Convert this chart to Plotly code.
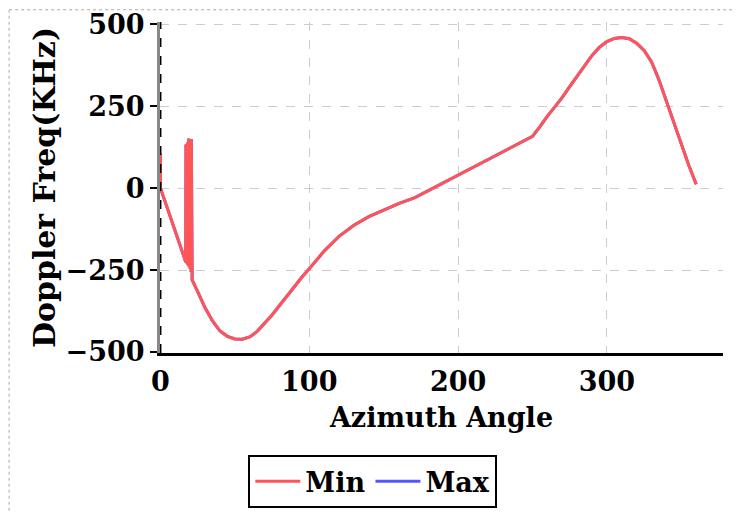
import plotly.graph_objects as go

# azimuth angle (deg) and doppler frequency (KHz)
azimuth = [0, 0, 5, 10, 15, 17,
           17.15, 17.3, 17.45, 17.6, 17.75, 17.9, 18.05, 18.2, 18.35, 18.5,
           18.65, 18.8, 18.95, 19.1, 19.25, 19.4, 19.55, 19.7, 19.85, 20.0,
           20.15, 20.3, 20.45, 20.6, 20.75, 20.9, 21.05, 21.3,
           25, 30, 35, 40, 45, 50, 55, 60, 65, 70, 75, 80, 85, 90, 95, 100,
           110, 120, 130, 140, 150, 160, 171, 200, 230, 250, 255, 260, 265, 270, 275,
           280, 285, 290, 295, 300, 305, 310, 315, 320, 325, 330, 335, 340, 345, 350, 355, 360]
doppler_min = [105, 0, -66, -133, -199, -225,
               130, -227, 131, -229, 132, -231, 133, -233, 134, -235,
               140, -237, 148, -239, 150, -241, 150, -244, 150, -247,
               150, -251, 150, -256, 150, -262, 148, -280,
               -316, -365, -405, -436, -452, -460, -461, -454, -437, -413, -387, -358, -329, -300, -272, -246,
               -192, -147, -113, -87, -66, -47, -29, 40, 110, 158, 188, 220, 248, 277, 310,
               342, 375, 405, 430, 447, 457, 460, 456, 442, 420, 385, 330, 265, 198, 132, 70, 12]
doppler_max = [105, 0, -66, -133, -199, -225,
               130, -227, 131, -229, 132, -231, 133, -233, 134, -235,
               140, -237, 148, -239, 150, -241, 150, -244, 150, -247,
               150, -251, 150, -256, 150, -262, 148, -280,
               -316, -365, -405, -436, -452, -460, -461, -454, -437, -413, -387, -358, -329, -300, -272, -246,
               -192, -147, -113, -87, -66, -47, -29, 40, 110, 158, 188, 220, 248, 277, 310,
               342, 375, 405, 430, 447, 457, 460, 456, 442, 420, 385, 330, 265, 198, 132, 70, 12]

x_ticks = [0, 100, 200, 300]
y_ticks = [-500, -250, 0, 250, 500]

font = dict(family='DejaVu Serif', size=27, color='black', weight='bold')

fig = go.Figure()
# Max drawn first so Min sits on top, but Min listed first in the legend
fig.add_trace(go.Scatter(x=azimuth, y=doppler_max, mode='lines', name='Max',
                         line=dict(color='#5555ff', width=3), legendrank=2))
fig.add_trace(go.Scatter(x=azimuth, y=doppler_min, mode='lines', name='Min',
                         line=dict(color='#ff5555', width=3), legendrank=1))

# dashed black line over the left axis
fig.add_shape(type='line', xref='x', yref='paper', x0=0, x1=0, y0=0, y1=1,
              line=dict(color='black', width=2, dash='dash'))
# dotted page border on top and left
fig.add_shape(type='line', xref='paper', yref='paper', x0=-0.268, x1=1.05, y0=1.037, y1=1.037,
              line=dict(color='#aaaaaa', width=1, dash='dot'))
fig.add_shape(type='line', xref='paper', yref='paper', x0=-0.268, x1=-0.268, y0=1.037, y1=-0.5,
              line=dict(color='#aaaaaa', width=1, dash='dot'))

fig.update_layout(
    width=740, height=512,
    margin=dict(l=152, r=25, t=14, b=167, autoexpand=False),
    paper_bgcolor='white', plot_bgcolor='white',
    font=font,
    showlegend=True,
    legend=dict(orientation='h', x=0.378, xanchor='center', y=-0.309, yanchor='top',
                bordercolor='black', borderwidth=2, font=font, itemwidth=45),
    xaxis=dict(range=[-0.3, 378], tickvals=x_ticks, showgrid=True,
               gridcolor='#cccccc', griddash='dash', gridwidth=1,
               showline=True, linecolor='black', linewidth=3, zeroline=False,
               ticks='', ticklabelstandoff=3, ticklabeloverflow='allow',
               title=dict(text='Azimuth Angle', font=font, standoff=12)),
    yaxis=dict(range=[-503, 507], tickvals=y_ticks, showgrid=True,
               gridcolor='#cccccc', griddash='dash', gridwidth=1,
               showline=True, linecolor='#888888', linewidth=3, zeroline=False,
               ticks='outside', ticklen=7, tickwidth=2, tickcolor='black',
               ticklabeloverflow='allow',
               title=dict(text='Doppler Freq(KHz)', font=dict(family='DejaVu Serif', size=30,
                                                              color='black', weight='bold'),
                          standoff=2)),
)

fig.write_html("out.html")
